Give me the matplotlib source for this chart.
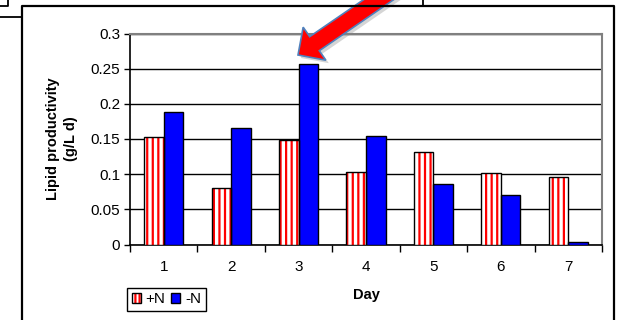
import numpy as np
import matplotlib
matplotlib.use('Agg')
import matplotlib.pyplot as plt
from matplotlib.patches import Patch, FancyArrow
from matplotlib.lines import Line2D
from matplotlib.transforms import IdentityTransform

days = ['1', '2', '3', '4', '5', '6', '7']
plus_n = [0.153, 0.080, 0.149, 0.103, 0.131, 0.102, 0.096]
minus_n = [0.189, 0.166, 0.256, 0.154, 0.086, 0.071, 0.004]
y_ticks = [0, 0.05, 0.1, 0.15, 0.2, 0.25, 0.3]
y_tick_labels = ['0', '0.05', '0.1', '0.15', '0.2', '0.25', '0.3']

W, H = 617, 320
plt.rcParams['font.family'] = ['Liberation Sans', 'DejaVu Sans']
plt.rcParams['hatch.linewidth'] = 1.6

fig = plt.figure(figsize=(W / 100, H / 100), dpi=100)
ax = fig.add_axes([130 / W, (H - 244.5) / H, 472 / W, 211 / H])

x = np.arange(len(days))
w = 0.29

# +N : red vertical stripes on white, black outline
ax.bar(x - w / 2, plus_n, w, facecolor='white', edgecolor='red',
       hatch='|||', linewidth=0, zorder=3)
ax.bar(x - w / 2, plus_n, w, fill=False, edgecolor='black',
       linewidth=1.0, zorder=4)
# -N : solid blue
ax.bar(x + w / 2, minus_n, w, color='#0000ff', edgecolor='black',
       linewidth=1.0, zorder=3)

ax.set_xlim(-0.5, len(days) - 0.5)
ax.set_ylim(0, 0.3)
ax.set_yticks(y_ticks)
ax.set_yticklabels(y_tick_labels)
ax.yaxis.grid(True, color='black', linewidth=1.0, zorder=1)
ax.set_axisbelow(True)

ax.set_xticks(np.arange(-0.5, len(days)), labels=[''] * (len(days) + 1))
ax.set_xticks(x, labels=days, minor=True)
ax.tick_params(axis='x', which='major', direction='out', length=5,
               width=1, color='black')
ax.tick_params(axis='x', which='minor', length=0, pad=11, labelsize=11)
ax.tick_params(axis='y', direction='out', length=4, width=1, labelsize=11, pad=3)

for s in ['top', 'right']:
    ax.spines[s].set_color('#808080')
    ax.spines[s].set_linewidth(1.5)
for s in ['left', 'bottom']:
    ax.spines[s].set_color('black')
    ax.spines[s].set_linewidth(1.2)

ax.set_xlabel('Day', fontsize=10.5, fontweight='bold', labelpad=10)
ax.set_ylabel('Lipid productivity\n(g/L d)', fontsize=10.5, fontweight='bold',
              labelpad=9, linespacing=1.4)

# legend
h_plus = (Patch(facecolor='white', edgecolor='red', hatch='||||', linewidth=0),
          Patch(fill=False, edgecolor='black', linewidth=1))
h_minus = Patch(facecolor='#0000ff', edgecolor='black', linewidth=1)
leg = fig.legend([h_plus, h_minus], ['+N', '-N'], loc='lower left',
                 bbox_to_anchor=(127 / W, 9 / H), borderaxespad=0, ncol=2,
                 fontsize=11, handlelength=0.6, handleheight=0.6,
                 handletextpad=0.3, columnspacing=0.4, borderpad=0.3,
                 fancybox=False, framealpha=1)
leg.get_frame().set_edgecolor('black')
leg.get_frame().set_linewidth(1.0)


# outer chart frame and bits of the neighbouring boxes (pixel coords, top-left origin)
def px_line(xs, ys, **kw):
    fig.add_artist(Line2D([a / W for a in xs], [1 - b / H for b in ys],
                          transform=fig.transFigure, color='black', **kw))

px_line([22, 22, 613.5, 613.5], [322, 5.5, 5.5, 322], linewidth=1.6)
px_line([0, 22], [17, 17], linewidth=1.3)
px_line([0, 8, 8], [5.5, 5.5, -2], linewidth=1.3)
px_line([423, 423], [-2, 5.5], linewidth=1.3)

# red arrow pointing at the day-3 -N bar
tail = (400, H + 15)
tip = (298, H - 55)
shadow = FancyArrow(tail[0] + 3, tail[1] - 3, tip[0] - tail[0], tip[1] - tail[1],
                    width=17, head_width=40, head_length=20,
                    length_includes_head=True, facecolor='#888888',
                    edgecolor='none', alpha=0.35, transform=IdentityTransform())
arrow = FancyArrow(tail[0], tail[1], tip[0] - tail[0], tip[1] - tail[1],
                   width=17, head_width=40, head_length=20,
                   length_includes_head=True, facecolor='#ff0000',
                   edgecolor='#4f81bd', linewidth=1.2,
                   transform=IdentityTransform())
fig.add_artist(shadow)
fig.add_artist(arrow)

fig.savefig('out.png', dpi=100)
